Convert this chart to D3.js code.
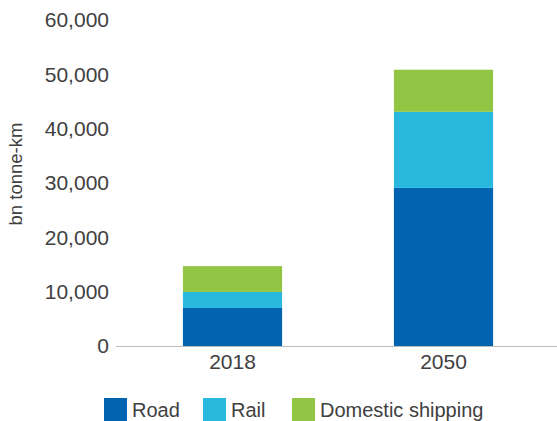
<!DOCTYPE html>
<html>
<head>
<meta charset="utf-8">
<script src="https://cdn.jsdelivr.net/npm/d3@7"></script>
<style>
  body { margin: 0; background: #fff; }
  svg { display: block; font-family: "Liberation Sans", Arial, sans-serif; }
</style>
</head>
<body>
<script>
// data
var years = ['2018', '2050'];
var seriesNames = ['Road', 'Rail', 'Domestic shipping'];
var road = [7000, 29100];
var rail = [2950, 14000];
var shipping = [4750, 7750];
var yTicks = [0, 10000, 20000, 30000, 40000, 50000, 60000];
var colors = ['#0064b1', '#29b9df', '#92c544'];
//end data

var width = 557, height = 421;
var textColor = '#404040';

var svg = d3.select('body').append('svg')
    .attr('width', width)
    .attr('height', height);

var rows = years.map(function (y, i) {
    return { year: y, Road: road[i], Rail: rail[i], 'Domestic shipping': shipping[i] };
});
var stacked = d3.stack().keys(seriesNames)(rows);

var x = d3.scaleBand()
    .domain(years)
    .range([127, 549])
    .paddingInner(0.53)
    .paddingOuter(0.265);

var y = d3.scaleLinear()
    .domain([0, 60000])
    .range([346, 20]);

// y tick labels (no axis line)
var yAxis = d3.axisLeft(y)
    .tickValues(yTicks)
    .tickSize(0)
    .tickPadding(0)
    .tickFormat(d3.format(','));
var gy = svg.append('g')
    .attr('transform', 'translate(109,0)')
    .call(yAxis);
gy.select('.domain').remove();
gy.selectAll('text')
    .attr('fill', textColor)
    .style('font-size', '21px');

// y title
svg.append('text')
    .attr('transform', 'translate(22,174) rotate(-90)')
    .attr('text-anchor', 'middle')
    .attr('fill', textColor)
    .style('font-size', '18.5px')
    .text('bn tonne-km');

// bars
svg.append('g').selectAll('g')
    .data(stacked)
    .enter().append('g')
    .attr('fill', function (d, i) { return colors[i]; })
    .selectAll('rect')
    .data(function (d) { return d; })
    .enter().append('rect')
    .attr('x', function (d) { return x(d.data.year); })
    .attr('width', x.bandwidth())
    .attr('y', function (d) { return y(d[1]); })
    .attr('height', function (d) { return y(d[0]) - y(d[1]); });

// baseline
svg.append('line')
    .attr('x1', 116).attr('x2', 557)
    .attr('y1', y(0) + 0.5).attr('y2', y(0) + 0.5)
    .attr('stroke', '#bdbdbd')
    .attr('stroke-width', 1.2);

// x labels
var xAxis = d3.axisBottom(x).tickSize(0).tickPadding(8);
var gx = svg.append('g')
    .attr('transform', 'translate(0,' + y(0) + ')')
    .call(xAxis);
gx.select('.domain').remove();
gx.selectAll('text')
    .attr('fill', textColor)
    .style('font-size', '21px');

// legend
var legendX = [104, 203, 292];
var legend = svg.append('g').selectAll('g')
    .data(seriesNames)
    .enter().append('g')
    .attr('transform', function (d, i) { return 'translate(' + legendX[i] + ',398)'; });
legend.append('rect')
    .attr('width', 23)
    .attr('height', 23)
    .attr('fill', function (d, i) { return colors[i]; });
legend.append('text')
    .attr('x', 28)
    .attr('y', 19)
    .attr('fill', textColor)
    .style('font-size', '20px')
    .text(function (d) { return d; });
</script>
</body>
</html>
